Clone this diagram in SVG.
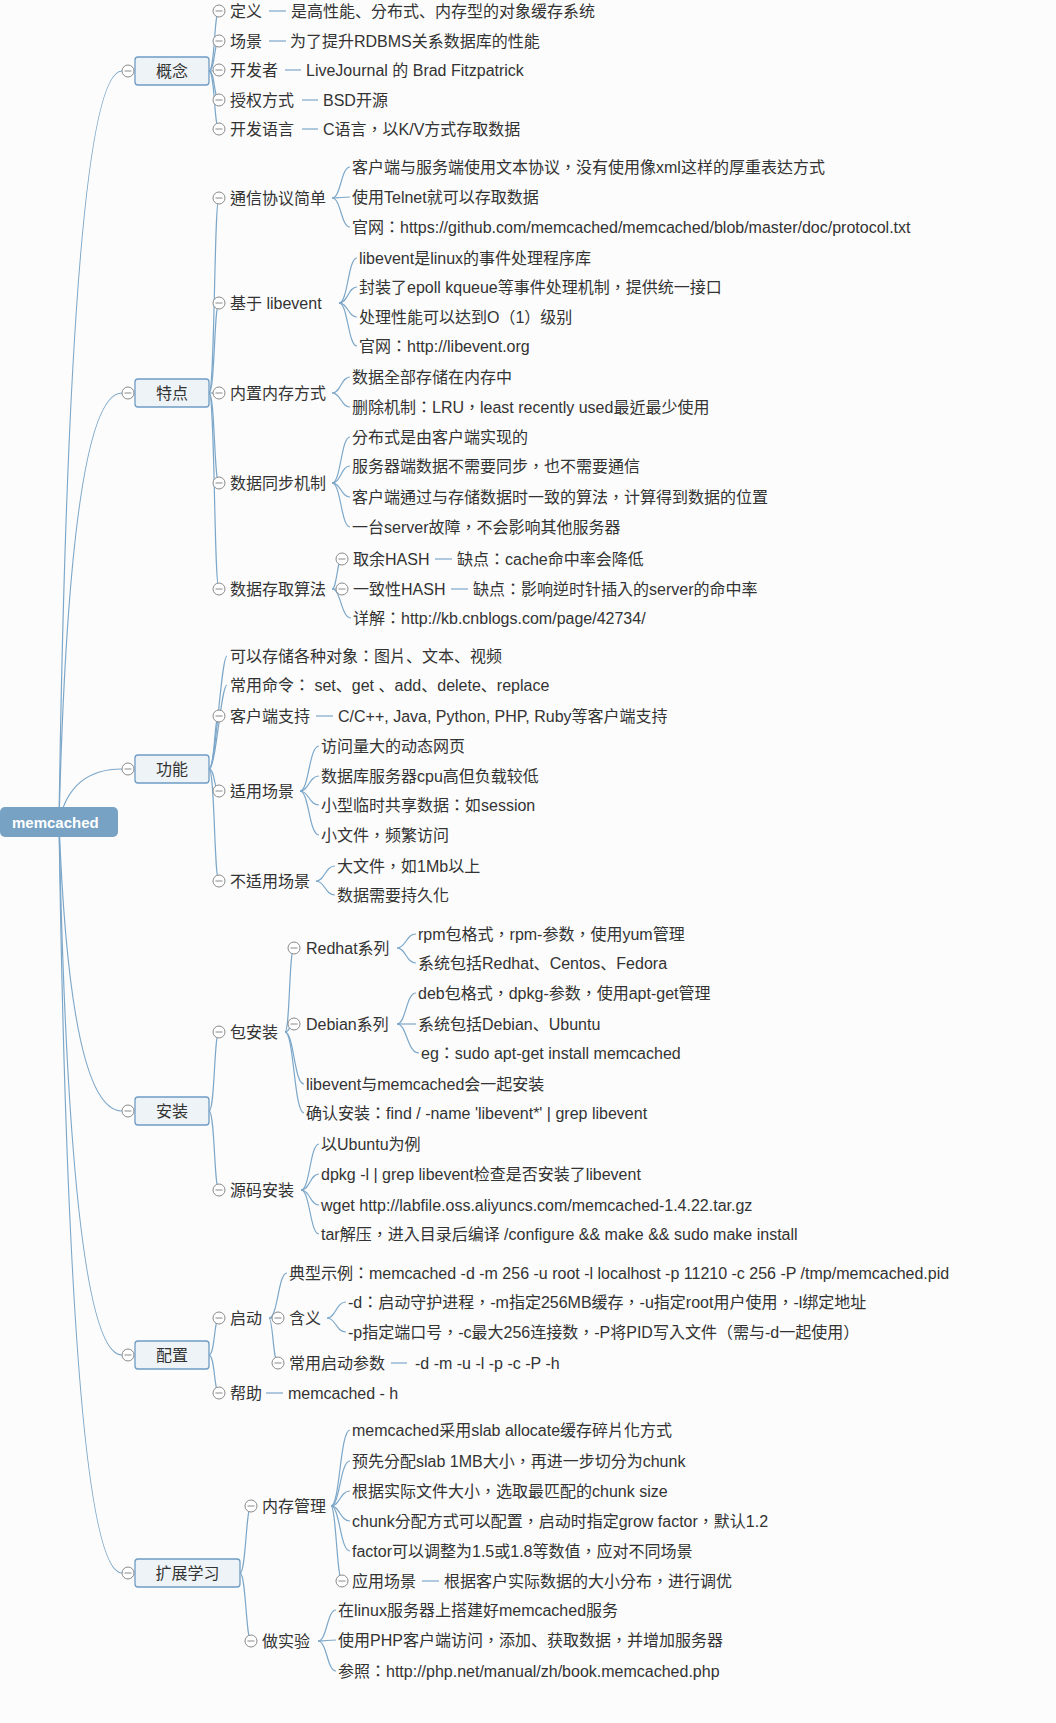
<svg xmlns="http://www.w3.org/2000/svg" width="1056" height="1723" viewBox="0 0 1056 1723">
<style>
.t{font-family:"Liberation Sans","Noto Sans CJK TC","Noto Sans CJK SC",sans-serif;font-size:16px;fill:#333}
.sc{font-family:"Noto Sans CJK SC",sans-serif}
.bt{font-family:"Liberation Sans","Noto Sans CJK SC",sans-serif;font-size:16px;fill:#333;text-anchor:middle}
.rt{font-family:"Liberation Sans","Noto Sans CJK SC",sans-serif;font-size:15px;font-weight:bold;fill:#fff}
.b{fill:#eef3f7;stroke:#6e9cc3;stroke-width:1.3}
#conn path,#conn line{fill:none;stroke:#7ca7c9;stroke-width:1.2}
</style>
<defs>
<g id="tog"><circle cx="0" cy="0" r="6" fill="#fff" stroke="#8a8a8a" stroke-width="1"/><line x1="-3.5" y1="0" x2="3.5" y2="0" stroke="#8a8a8a" stroke-width="1"/></g>
</defs>
<rect width="1056" height="1723" fill="#fcfcfc"/>
<g id="conn">
<path d="M59 822Q70 71 122 71"/>
<path d="M59 822Q70 393 122 393"/>
<path d="M59 822Q70 769 122 769"/>
<path d="M59 822Q70 1111 122 1111"/>
<path d="M59 822Q70 1355 122 1355"/>
<path d="M59 822Q70 1573 122 1573"/>
<path d="M209 71C215 71 214 11 219 11"/>
<path d="M209 71C215 71 214 41 219 41"/>
<path d="M209 71C215 71 214 70 219 70"/>
<path d="M209 71C215 71 214 100 219 100"/>
<path d="M209 71C215 71 214 129 219 129"/>
<path d="M209 393C215 393 214 198 219 198"/>
<path d="M209 393C215 393 214 303 219 303"/>
<path d="M209 393C215 393 214 393 219 393"/>
<path d="M209 393C215 393 214 483 219 483"/>
<path d="M209 393C215 393 214 589 219 589"/>
<path d="M209 769C216 769 221 656 227 656"/>
<path d="M209 769C216 769 221 685 227 685"/>
<path d="M209 769C215 769 214 716 219 716"/>
<path d="M209 769C215 769 214 791 219 791"/>
<path d="M209 769C215 769 214 881 219 881"/>
<path d="M209 1111C215 1111 214 1032 219 1032"/>
<path d="M209 1111C215 1111 214 1190 219 1190"/>
<path d="M209 1355C215 1355 214 1318 219 1318"/>
<path d="M209 1355C215 1355 214 1393 219 1393"/>
<path d="M240 1573C246 1573 246 1506 251 1506"/>
<path d="M240 1573C246 1573 246 1641 251 1641"/>
<path d="M332 198C341 198 341 167 350 167"/>
<path d="M332 198C341 198 341 197 350 197"/>
<path d="M332 198C341 198 341 227 350 227"/>
<path d="M339 303C348 303 348 258 357 258"/>
<path d="M339 303C348 303 348 287 357 287"/>
<path d="M339 303C348 303 348 317 357 317"/>
<path d="M339 303C348 303 348 346 357 346"/>
<path d="M332 393C341 393 341 377 350 377"/>
<path d="M332 393C341 393 341 407 350 407"/>
<path d="M332 483C341 483 341 437 350 437"/>
<path d="M332 483C341 483 341 466 350 466"/>
<path d="M332 483C341 483 341 497 350 497"/>
<path d="M332 483C341 483 341 527 350 527"/>
<path d="M332 589C337 589 337 559 342 559"/>
<path d="M332 589L342 589"/>
<path d="M332 589C341 589 341 618 351 618"/>
<path d="M300 791C309 791 309 746 319 746"/>
<path d="M300 791C309 791 309 776 319 776"/>
<path d="M300 791C309 791 309 805 319 805"/>
<path d="M300 791C309 791 309 835 319 835"/>
<path d="M316 881C325 881 325 866 335 866"/>
<path d="M316 881C325 881 325 895 335 895"/>
<path d="M285 1032C290 1032 289 948 294 948"/>
<path d="M285 1032C290 1032 289 1024 294 1024"/>
<path d="M285 1032C294 1032 294 1084 304 1084"/>
<path d="M285 1032C294 1032 294 1113 304 1113"/>
<path d="M397 948C406 948 406 934 416 934"/>
<path d="M397 948C406 948 406 963 416 963"/>
<path d="M397 1024C406 1024 406 993 416 993"/>
<path d="M397 1024L416 1024"/>
<path d="M397 1024C407 1024 407 1053 419 1053"/>
<path d="M301 1190C310 1190 310 1144 319 1144"/>
<path d="M301 1190C310 1190 310 1174 319 1174"/>
<path d="M301 1190C310 1190 310 1205 319 1205"/>
<path d="M301 1190C310 1190 310 1234 319 1234"/>
<path d="M269 1318C278 1318 278 1273 287 1273"/>
<path d="M269 1318L278 1318"/>
<path d="M269 1318C273 1318 273 1363 278 1363"/>
<path d="M327 1318C336 1318 336 1302 346 1302"/>
<path d="M327 1318C336 1318 336 1332 346 1332"/>
<path d="M331 1506C340 1506 340 1430 350 1430"/>
<path d="M331 1506C340 1506 340 1461 350 1461"/>
<path d="M331 1506C340 1506 340 1491 350 1491"/>
<path d="M331 1506C340 1506 340 1521 350 1521"/>
<path d="M331 1506C340 1506 340 1551 350 1551"/>
<path d="M331 1506C336 1506 337 1581 342 1581"/>
<path d="M318 1641C327 1641 327 1610 336 1610"/>
<path d="M318 1641C327 1641 327 1640 336 1640"/>
<path d="M318 1641C327 1641 327 1671 336 1671"/>
<line x1="269" y1="11" x2="286" y2="11"/>
<line x1="269" y1="41" x2="286" y2="41"/>
<line x1="285" y1="70" x2="301" y2="70"/>
<line x1="302" y1="100" x2="318" y2="100"/>
<line x1="302" y1="129" x2="318" y2="129"/>
<line x1="435" y1="559" x2="452" y2="559"/>
<line x1="451" y1="589" x2="468" y2="589"/>
<line x1="316" y1="716" x2="333" y2="716"/>
<line x1="391" y1="1363" x2="407" y2="1363"/>
<line x1="266" y1="1393" x2="283" y2="1393"/>
<line x1="422" y1="1581" x2="439" y2="1581"/>
</g>
<g id="n-root"><rect x="0" y="807" width="118" height="30" rx="5" fill="#77a2c4"/><text class="rt" x="12" y="827.5">memcached</text></g>

<g id="n-gainian"><use href="#tog" x="128" y="71"/><rect class="b" x="135" y="57" width="74" height="28" rx="3"/><text class="bt" x="172" y="77">概念</text></g>
<g id="n-dingyi"><use href="#tog" x="219" y="11"/><text class="t" x="230" y="17">定义</text><text class="t" x="291" y="17">是高性能<tspan class="sc">、</tspan>分布式<tspan class="sc">、</tspan>内存型的对象缓存系统</text></g>
<g id="n-changjing"><use href="#tog" x="219" y="41"/><text class="t" x="230" y="47">场景</text><text class="t" x="290" y="47">为了提升RDBMS关系数据库的性能</text></g>
<g id="n-kaifazhe"><use href="#tog" x="219" y="70"/><text class="t" x="230" y="76">开发者</text><text class="t" x="306" y="76">LiveJournal 的 Brad Fitzpatrick</text></g>
<g id="n-shouquan"><use href="#tog" x="219" y="100"/><text class="t" x="230" y="106">授权方式</text><text class="t" x="323" y="106">BSD开源</text></g>
<g id="n-yuyan"><use href="#tog" x="219" y="129"/><text class="t" x="230" y="135">开发语言</text><text class="t" x="323" y="135">C语言，以K/V方式存取数据</text></g>

<g id="n-tedian"><use href="#tog" x="128" y="393"/><rect class="b" x="135" y="379" width="74" height="28" rx="3"/><text class="bt" x="172" y="399">特点</text></g>
<g id="n-tongxin"><use href="#tog" x="219" y="198"/><text class="t" x="230" y="204">通信协议简单</text></g>
<g id="n-tongxin-1"><text class="t" x="352" y="173">客户端与服务端使用文本协议，没有使用像xml这样的厚重表达方式</text></g>
<g id="n-tongxin-2"><text class="t" x="352" y="203">使用Telnet就可以存取数据</text></g>
<g id="n-tongxin-3"><text class="t" x="352" y="233">官网：https://github.com/memcached/memcached/blob/master/doc/protocol.txt</text></g>
<g id="n-libevent"><use href="#tog" x="219" y="303"/><text class="t" x="230" y="309">基于 libevent</text></g>
<g id="n-libevent-1"><text class="t" x="359" y="264">libevent是linux的事件处理程序库</text></g>
<g id="n-libevent-2"><text class="t" x="359" y="293">封装了epoll kqueue等事件处理机制，提供统一接口</text></g>
<g id="n-libevent-3"><text class="t" x="359" y="323">处理性能可以达到O（1）级别</text></g>
<g id="n-libevent-4"><text class="t" x="359" y="352">官网：http://libevent.org</text></g>
<g id="n-neicun"><use href="#tog" x="219" y="393"/><text class="t" x="230" y="399">内置内存方式</text></g>
<g id="n-neicun-1"><text class="t" x="352" y="383">数据全部存储在内存中</text></g>
<g id="n-neicun-2"><text class="t" x="352" y="413">删除机制：LRU，least recently used最近最少使用</text></g>
<g id="n-tongbu"><use href="#tog" x="219" y="483"/><text class="t" x="230" y="489">数据同步机制</text></g>
<g id="n-tongbu-1"><text class="t" x="352" y="443">分布式是由客户端实现的</text></g>
<g id="n-tongbu-2"><text class="t" x="352" y="472">服务器端数据不需要同步，也不需要通信</text></g>
<g id="n-tongbu-3"><text class="t" x="352" y="503">客户端通过与存储数据时一致的算法，计算得到数据的位置</text></g>
<g id="n-tongbu-4"><text class="t" x="352" y="533">一台server故障，不会影响其他服务器</text></g>
<g id="n-suanfa"><use href="#tog" x="219" y="589"/><text class="t" x="230" y="595">数据存取算法</text></g>
<g id="n-quyu"><use href="#tog" x="342" y="559"/><text class="t" x="353" y="565">取余HASH</text><text class="t" x="457" y="565">缺点：cache命中率会降低</text></g>
<g id="n-yizhi"><use href="#tog" x="342" y="589"/><text class="t" x="353" y="595">一致性HASH</text><text class="t" x="473" y="595">缺点：影响逆时针插入的server的命中率</text></g>
<g id="n-xiangjie"><text class="t" x="353" y="624">详解：http://kb.cnblogs.com/page/42734/</text></g>

<g id="n-gongneng"><use href="#tog" x="128" y="769"/><rect class="b" x="135" y="755" width="74" height="28" rx="3"/><text class="bt" x="172" y="775">功能</text></g>
<g id="n-cunchu"><text class="t" x="230" y="662">可以存储各种对象：图片<tspan class="sc">、</tspan>文本<tspan class="sc">、</tspan>视频</text></g>
<g id="n-mingling"><text class="t" x="230" y="691">常用命令： set<tspan class="sc">、</tspan>get <tspan class="sc">、</tspan>add<tspan class="sc">、</tspan>delete<tspan class="sc">、</tspan>replace</text></g>
<g id="n-kehuduan"><use href="#tog" x="219" y="716"/><text class="t" x="230" y="722">客户端支持</text><text class="t" x="338" y="722">C/C++, Java, Python, PHP, Ruby等客户端支持</text></g>
<g id="n-shiyong"><use href="#tog" x="219" y="791"/><text class="t" x="230" y="797">适用场景</text></g>
<g id="n-shiyong-1"><text class="t" x="321" y="752">访问量大的动态网页</text></g>
<g id="n-shiyong-2"><text class="t" x="321" y="782">数据库服务器cpu高但负载较低</text></g>
<g id="n-shiyong-3"><text class="t" x="321" y="811">小型临时共享数据：如session</text></g>
<g id="n-shiyong-4"><text class="t" x="321" y="841">小文件，频繁访问</text></g>
<g id="n-bushiyong"><use href="#tog" x="219" y="881"/><text class="t" x="230" y="887">不适用场景</text></g>
<g id="n-bushiyong-1"><text class="t" x="337" y="872">大文件，如1Mb以上</text></g>
<g id="n-bushiyong-2"><text class="t" x="337" y="901">数据需要持久化</text></g>

<g id="n-anzhuang"><use href="#tog" x="128" y="1111"/><rect class="b" x="135" y="1097" width="74" height="28" rx="3"/><text class="bt" x="172" y="1117">安装</text></g>
<g id="n-bao"><use href="#tog" x="219" y="1032"/><text class="t" x="230" y="1038">包安装</text></g>
<g id="n-redhat"><use href="#tog" x="294" y="948"/><text class="t" x="306" y="954">Redhat系列</text></g>
<g id="n-redhat-1"><text class="t" x="418" y="940">rpm包格式，rpm-参数，使用yum管理</text></g>
<g id="n-redhat-2"><text class="t" x="418" y="969">系统包括Redhat<tspan class="sc">、</tspan>Centos<tspan class="sc">、</tspan>Fedora</text></g>
<g id="n-debian"><use href="#tog" x="294" y="1024"/><text class="t" x="306" y="1030">Debian系列</text></g>
<g id="n-debian-1"><text class="t" x="418" y="999">deb包格式，dpkg-参数，使用apt-get管理</text></g>
<g id="n-debian-2"><text class="t" x="418" y="1030">系统包括Debian<tspan class="sc">、</tspan>Ubuntu</text></g>
<g id="n-debian-3"><text class="t" x="421" y="1059">eg：sudo apt-get install memcached</text></g>
<g id="n-yiqi"><text class="t" x="306" y="1090">libevent与memcached会一起安装</text></g>
<g id="n-queren"><text class="t" x="306" y="1119">确认安装：find / -name 'libevent*' | grep libevent</text></g>
<g id="n-yuanma"><use href="#tog" x="219" y="1190"/><text class="t" x="230" y="1196">源码安装</text></g>
<g id="n-yuanma-1"><text class="t" x="321" y="1150">以Ubuntu为例</text></g>
<g id="n-yuanma-2"><text class="t" x="321" y="1180">dpkg -l | grep libevent检查是否安装了libevent</text></g>
<g id="n-yuanma-3"><text class="t" x="321" y="1211">wget http://labfile.oss.aliyuncs.com/memcached-1.4.22.tar.gz</text></g>
<g id="n-yuanma-4"><text class="t" x="321" y="1240">tar解压，进入目录后编译 /configure &amp;&amp; make &amp;&amp; sudo make install</text></g>

<g id="n-peizhi"><use href="#tog" x="128" y="1355"/><rect class="b" x="135" y="1341" width="74" height="28" rx="3"/><text class="bt" x="172" y="1361">配置</text></g>
<g id="n-qidong"><use href="#tog" x="219" y="1318"/><text class="t" x="230" y="1324">启动</text></g>
<g id="n-shili"><text class="t" x="289" y="1279">典型示例：memcached -d -m 256 -u root -l localhost -p 11210 -c 256 -P /tmp/memcached.pid</text></g>
<g id="n-hanyi"><use href="#tog" x="278" y="1318"/><text class="t" x="289" y="1324">含义</text></g>
<g id="n-hanyi-1"><text class="t" x="348" y="1308">-d：启动守护进程，-m指定256MB缓存，-u指定root用户使用，-l绑定地址</text></g>
<g id="n-hanyi-2"><text class="t" x="348" y="1338">-p指定端口号，-c最大256连接数，-P将PID写入文件（需与-d一起使用）</text></g>
<g id="n-canshu"><use href="#tog" x="278" y="1363"/><text class="t" x="289" y="1369">常用启动参数</text><text class="t" x="415" y="1369">-d -m -u -l -p -c -P -h</text></g>
<g id="n-bangzhu"><use href="#tog" x="219" y="1393"/><text class="t" x="230" y="1399">帮助</text><text class="t" x="288" y="1399">memcached - h</text></g>

<g id="n-kuozhan"><use href="#tog" x="128" y="1573"/><rect class="b" x="135" y="1559" width="105" height="28" rx="3"/><text class="bt" x="187.5" y="1579">扩展学习</text></g>
<g id="n-neicunguanli"><use href="#tog" x="251" y="1506"/><text class="t" x="262" y="1512">内存管理</text></g>
<g id="n-ncgl-1"><text class="t" x="352" y="1436">memcached采用slab allocate缓存碎片化方式</text></g>
<g id="n-ncgl-2"><text class="t" x="352" y="1467">预先分配slab 1MB大小，再进一步切分为chunk</text></g>
<g id="n-ncgl-3"><text class="t" x="352" y="1497">根据实际文件大小，选取最匹配的chunk size</text></g>
<g id="n-ncgl-4"><text class="t" x="352" y="1527">chunk分配方式可以配置，启动时指定grow factor，默认1.2</text></g>
<g id="n-ncgl-5"><text class="t" x="352" y="1557">factor可以调整为1.5或1.8等数值，应对不同场景</text></g>
<g id="n-yingyong"><use href="#tog" x="342" y="1581"/><text class="t" x="352" y="1587">应用场景</text><text class="t" x="444" y="1587">根据客户实际数据的大小分布，进行调优</text></g>
<g id="n-shiyan"><use href="#tog" x="251" y="1641"/><text class="t" x="262" y="1647">做实验</text></g>
<g id="n-shiyan-1"><text class="t" x="338" y="1616">在linux服务器上搭建好memcached服务</text></g>
<g id="n-shiyan-2"><text class="t" x="338" y="1646">使用PHP客户端访问，添加<tspan class="sc">、</tspan>获取数据，并增加服务器</text></g>
<g id="n-shiyan-3"><text class="t" x="338" y="1677">参照：http://php.net/manual/zh/book.memcached.php</text></g>
</svg>
